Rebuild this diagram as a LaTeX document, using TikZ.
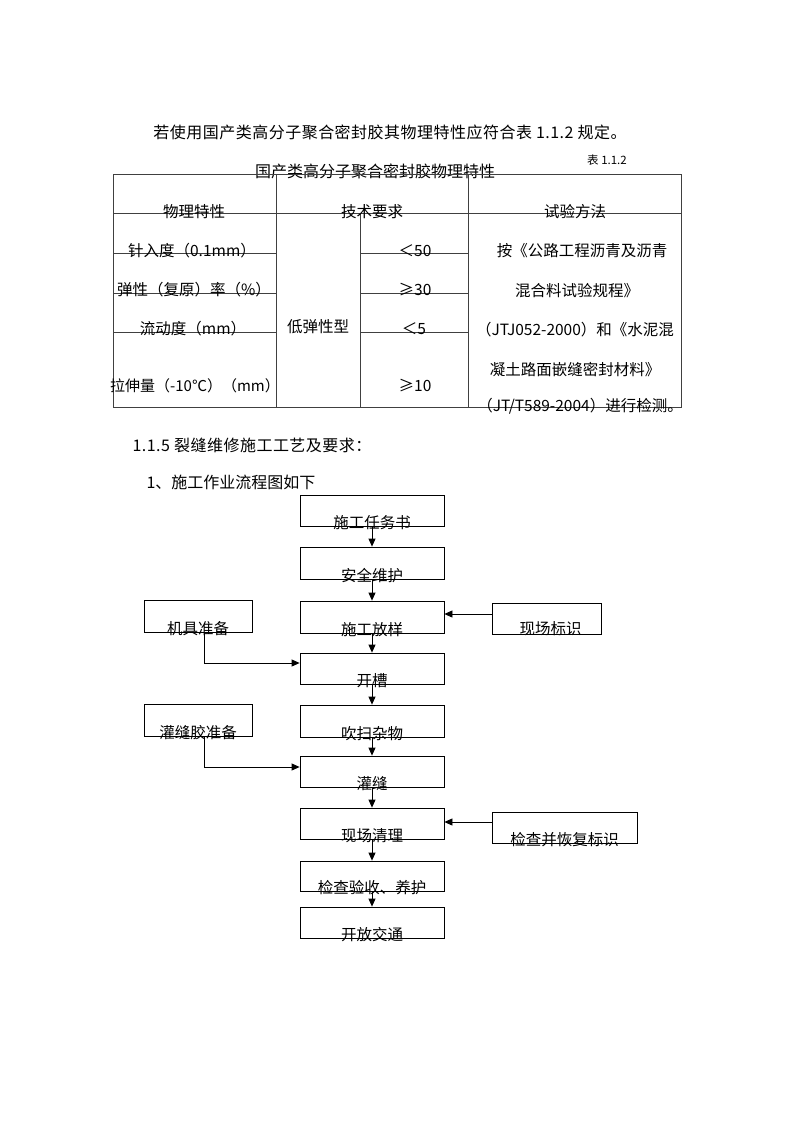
\documentclass[tikz,border=0pt]{standalone}
\usepackage{fontspec}
\setmainfont{Noto Sans CJK SC}
\usetikzlibrary{arrows.meta,calc}
\begin{document}
\begin{tikzpicture}[x=1pt,y=-1pt,
  txt/.style={inner sep=0pt, font=\fontsize{15.5}{16}\selectfont},
  small/.style={inner sep=0pt, font=\fontsize{11.5}{12}\selectfont},
  tl/.style={draw=black!75, line width=0.8pt},
  fbox/.style={draw, line width=0.8pt, inner sep=0pt, minimum width=144pt, minimum height=31pt},
  sbox/.style={draw, line width=0.8pt, inner sep=0pt, minimum height=31pt},
  arr/.style={line width=0.8pt, -{Triangle[length=8pt,width=7pt]}}]
\fill[white] (0,0) rectangle (794,1123);
\useasboundingbox (0,0) rectangle (794,1123);

% heading text
\node[txt, font=\fontsize{16}{17}\selectfont\addfontfeatures{LetterSpace=3}] (title) at (390,132) {若使用国产类高分子聚合密封胶其物理特性应符合表 1.1.2 规定。};
\node[small] (tabno) at (607,160) {表 1.1.2};
\node[txt, font=\fontsize{16}{17}\selectfont] (caption) at (375,171) {国产类高分子聚合密封胶物理特性};

% table grid
\draw[tl] (113,174) rectangle (681,407);
\draw[tl] (276,174) -- (276,407);
\draw[tl] (468,174) -- (468,407);
\draw[tl] (360,213) -- (360,407);
\draw[tl] (113,213) -- (681,213);
\foreach \yy in {253,293,332}{
  \draw[tl] (113,\yy) -- (276,\yy);
  \draw[tl] (360,\yy) -- (468,\yy);
}

% table texts
\node[txt] (h1) at (194,212) {物理特性};
\node[txt] (h2) at (372,212) {技术要求};
\node[txt] (h3) at (575,212) {试验方法};
\node[txt] (p1) at (192,251) {针入度（0.1mm）};
\node[txt] (p2) at (194,290) {弹性（复原）率（\%）};
\node[txt] (p3) at (193,329) {流动度（mm）};
\node[txt, font=\fontsize{15}{16}\selectfont] (p4) at (195,386) {拉伸量（-10℃）（mm）};
\node[txt] (typ) at (318,327) {低弹性型};
\node[txt] (v1) at (415,251) {＜50};
\node[txt] (v2) at (415,290) {≥30};
\node[txt] (v3) at (414,329) {＜5};
\node[txt] (v4) at (415,386) {≥10};
\node[txt] (m1) at (582,251) {按《公路工程沥青及沥青};
\node[txt] (m2) at (577,291) {混合料试验规程》};
\node[txt] (m3) at (575,330) {（JTJ052-2000）和《水泥混};
\node[txt] (m4) at (575,370) {凝土路面嵌缝密封材料》};
\node[txt] (m5) at (580,406) {（JT/T589-2004）进行检测。};

% section headings
\node[txt, font=\fontsize{16}{17}\selectfont\addfontfeatures{LetterSpace=3}] (sec) at (252,445) {1.1.5 裂缝维修施工工艺及要求：};
\node[txt, font=\fontsize{16}{17}\selectfont] (sub) at (231,482) {1、施工作业流程图如下};

% flowchart boxes
\node[fbox] (b1) at (372,510.5) {};
\node[fbox, minimum height=32pt] (b2) at (372,563) {};
\node[fbox, minimum height=32pt] (b3) at (372,617) {};
\node[fbox] (b4) at (372,668.5) {};
\node[fbox, minimum height=32pt] (b5) at (372,721) {};
\node[fbox] (b6) at (372,771.5) {};
\node[fbox] (b7) at (372,823.5) {};
\node[fbox, minimum height=30pt] (b8) at (372,876) {};
\node[fbox] (b9) at (372,922.5) {};

\node[sbox, minimum width=108pt, minimum height=32pt] (s1) at (198,616) {};
\node[sbox, minimum width=109pt] (s2) at (546.5,618.5) {};
\node[sbox, minimum width=108pt, minimum height=32pt] (s3) at (198,720) {};
\node[sbox, minimum width=145pt] (s4) at (564.5,827.5) {};

% box texts (set low in each box)
\node[txt] (t1) at ($(b1.south)+(0,-4)$) {施工任务书};
\node[txt] (t2) at ($(b2.south)+(0,-4)$) {安全维护};
\node[txt] (t3) at ($(b3.south)+(0,-4)$) {施工放样};
\node[txt] (t4) at ($(b4.south)+(0,-4)$) {开槽};
\node[txt] (t5) at ($(b5.south)+(0,-4)$) {吹扫杂物};
\node[txt] (t6) at ($(b6.south)+(0,-4)$) {灌缝};
\node[txt] (t7) at ($(b7.south)+(0,-4)$) {现场清理};
\node[txt] (t8) at ($(b8.south)+(0,-4)$) {检查验收、养护};
\node[txt] (t9) at ($(b9.south)+(0,-4)$) {开放交通};
\node[txt] (ts1) at ($(s1.south)+(0,-4)$) {机具准备};
\node[txt] (ts2) at ($(s2.south)+(4,-6)$) {现场标识};
\node[txt] (ts3) at ($(s3.south)+(0,-4)$) {灌缝胶准备};
\node[txt] (ts4) at ($(s4.south)+(0,-4)$) {检查并恢复标识};

% main flow arrows
\foreach \a/\b in {b1/b2,b2/b3,b3/b4,b4/b5,b5/b6,b6/b7,b7/b8,b8/b9}{
  \draw[arr] (\a.south) -- (\b.north);
}

% side arrows
\coordinate (c1) at ($(s1.south)+(6,0)$);
\draw[arr] (c1) |- ($(b4.west)+(0,-5.5)$);
\coordinate (c3) at ($(s3.south)+(6,0)$);
\draw[arr] (c3) |- ($(b6.west)+(0,-4.5)$);
\coordinate (c2) at ($(s2.west)+(0,-4.5)$);
\draw[arr] (c2) -- (c2 -| b3.east);
\coordinate (c4) at ($(s4.west)+(0,-5.5)$);
\draw[arr] (c4) -- (c4 -| b7.east);
\end{tikzpicture}
\end{document}
